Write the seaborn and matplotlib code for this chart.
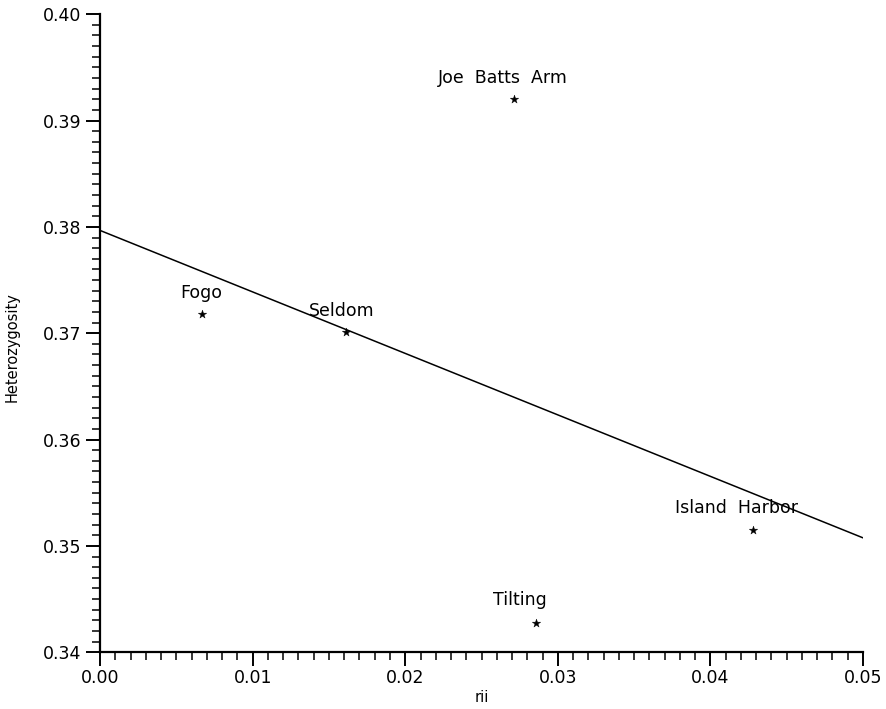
import numpy as np
import pandas as pd
import seaborn as sns
import matplotlib.pyplot as plt
from matplotlib.ticker import MultipleLocator

# values
sites = ["Fogo", "Seldom", "Joe  Batts  Arm", "Island  Harbor", "Tilting"]
rii = [0.0067, 0.0161, 0.0271, 0.0428, 0.0286]
het = [0.3718, 0.3701, 0.3920, 0.3515, 0.3428]

# label offsets (points) relative to each star
label_dx = [-1, -3, -8, -12, -12]
label_dy = [9, 9, 9, 9, 10]

df = pd.DataFrame({"rii": rii, "Heterozygosity": het, "site": sites})

sns.set_style("ticks")
plt.rcParams["font.family"] = ["DejaVu Sans"]
plt.rcParams["text.color"] = "black"
plt.rcParams["axes.labelcolor"] = "black"
plt.rcParams["xtick.color"] = "black"
plt.rcParams["ytick.color"] = "black"

fig = plt.figure(figsize=(8.86, 7.09), dpi=100)
ax = fig.add_axes([0.113, 0.080, 0.861, 0.900])
ax.set_xlim(0, 0.05)
ax.set_ylim(0.34, 0.40)

# least squares line across the whole x range, plus the stars
sns.regplot(data=df, x="rii", y="Heterozygosity", ax=ax, ci=None, truncate=False,
            scatter=False, line_kws={"color": "black", "lw": 1.1})
sns.scatterplot(data=df, x="rii", y="Heterozygosity", ax=ax, marker="*",
                s=40, color="black", edgecolor="black", linewidth=0.3, zorder=3)

for i, row in df.iterrows():
    ax.annotate(row["site"], (row["rii"], row["Heterozygosity"]),
                xytext=(label_dx[i], label_dy[i]), textcoords="offset points",
                ha="center", va="bottom", fontsize=12.5, color="black")

ax.set_xlim(0, 0.05)
ax.set_ylim(0.34, 0.40)
ax.xaxis.set_major_locator(MultipleLocator(0.01))
ax.xaxis.set_minor_locator(MultipleLocator(0.001))
ax.yaxis.set_major_locator(MultipleLocator(0.01))
ax.yaxis.set_minor_locator(MultipleLocator(0.001))
ax.xaxis.set_major_formatter(lambda v, p: f"{v:.2f}")
ax.yaxis.set_major_formatter(lambda v, p: f"{v:.2f}")
ax.tick_params(which="major", length=10, width=1.4, labelsize=12.5, color="black")
ax.tick_params(which="minor", length=6, width=1.1, color="black")
ax.tick_params(axis="x", which="major", pad=2)

for s in ["top", "right"]:
    ax.spines[s].set_visible(False)
for s in ["left", "bottom"]:
    ax.spines[s].set_linewidth(1.6)
    ax.spines[s].set_color("black")

ax.set_xlabel("rii", fontsize=10.5, labelpad=2)
ax.set_ylabel("Heterozygosity", fontsize=10.5)
ax.yaxis.set_label_coords(-0.105, 0.478)

fig.savefig("out.png", dpi=100, facecolor="white")
